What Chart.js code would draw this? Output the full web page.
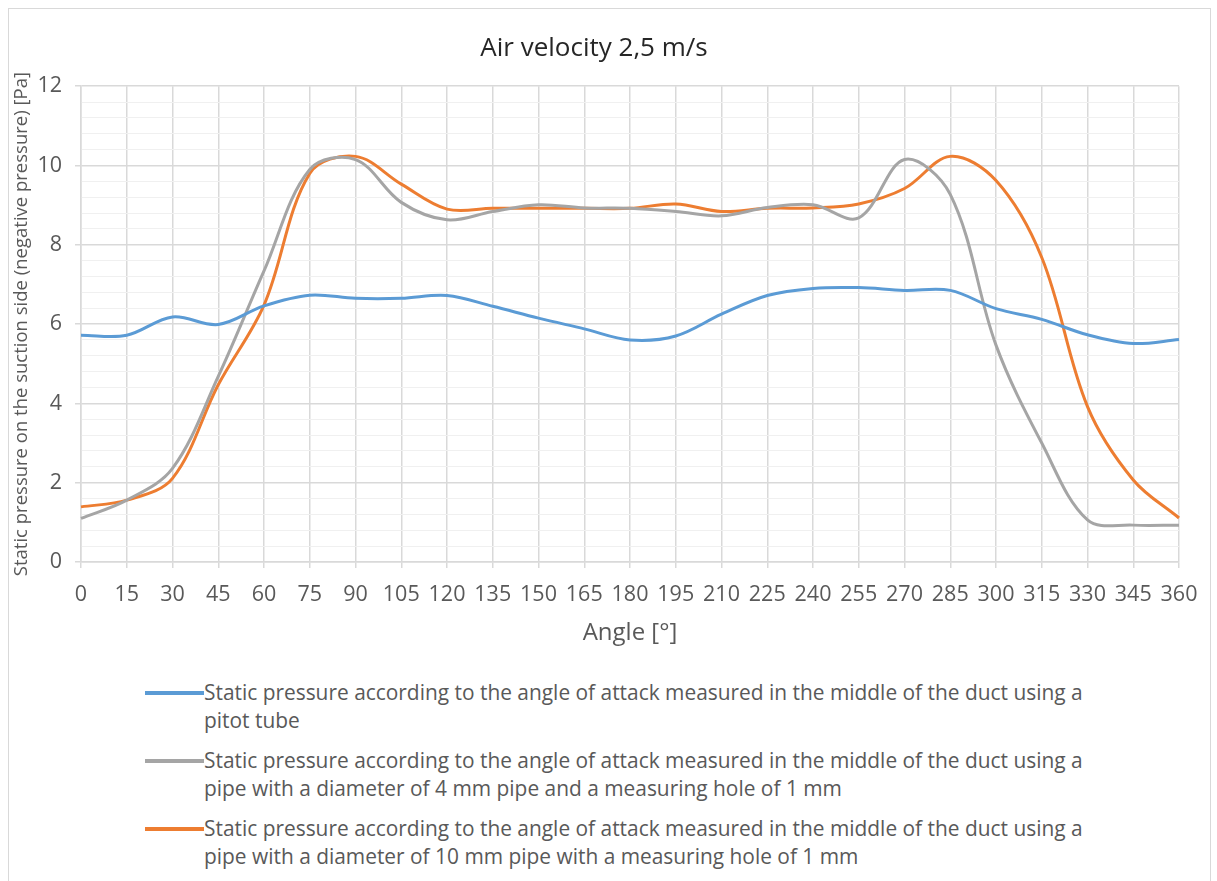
<!DOCTYPE html>
<html>
<head>
<meta charset="utf-8">
<script src="https://cdn.jsdelivr.net/npm/chart.js@4.4.1/dist/chart.umd.min.js"></script>
<style>
    body { margin: 0; background: #fff; font-family: 'Open Sans', Lato, sans-serif; }
    #frame { position: absolute; left: 8px; top: 8px; width: 1203px; height: 880px; border: 1px solid #d9d9d9; box-sizing: border-box; }
    #chartBox { position: absolute; left: 0; top: 0; width: 1200px; height: 650px; }
    #legend { position: absolute; left: 136px; top: 669px; color: #595959; font-size: 20.9px; }
    .legend-item { display: flex; align-items: flex-start; margin-bottom: 12px; }
    .legend-line { width: 59px; height: 4px; margin-top: 13px; flex: none; }
    .legend-text { width: 900px; line-height: 28px; }
</style>
</head>
<body>
<div id="frame">
    <div id="chartBox"><canvas id="pressureChart" width="1200" height="650"></canvas></div>
    <div id="legend"></div>
</div>
<script>
// angle of attack [deg]
const angles = [0, 15, 30, 45, 60, 75, 90, 105, 120, 135, 150, 165, 180, 195, 210, 225, 240, 255, 270, 285, 300, 315, 330, 345, 360];

// static pressure [Pa]
const pitotTube = [5.72, 5.72, 6.18, 5.99, 6.46, 6.73, 6.65, 6.65, 6.72, 6.45, 6.15, 5.88, 5.6, 5.7, 6.25, 6.72, 6.9, 6.92, 6.85, 6.85, 6.39, 6.12, 5.73, 5.51, 5.61];
const pipe4mm = [1.1, 1.56, 2.36, 4.68, 7.34, 9.9, 10.15, 9.07, 8.63, 8.84, 9.01, 8.93, 8.92, 8.84, 8.73, 8.94, 9.01, 8.68, 10.15, 9.27, 5.47, 3.0, 1.06, 0.93, 0.93];
const pipe10mm = [1.39, 1.56, 2.11, 4.47, 6.48, 9.8, 10.23, 9.53, 8.9, 8.92, 8.92, 8.92, 8.92, 9.03, 8.84, 8.92, 8.93, 9.03, 9.42, 10.23, 9.62, 7.68, 3.92, 2.07, 1.11];

const seriesLabels = [
    'Static pressure according to the angle of attack measured in the middle of the duct using a pitot tube',
    'Static pressure according to the angle of attack measured in the middle of the duct using a pipe with a diameter of 4 mm pipe and a measuring hole of 1 mm',
    'Static pressure according to the angle of attack measured in the middle of the duct using a pipe with a diameter of 10 mm pipe with a measuring hole of 1 mm'
];
const seriesColors = ['#5b9bd5', '#a5a5a5', '#ed7d31'];

const yMin = 0, yMax = 12, yMajor = 2, yMinor = 0.4;

const FONT = 'Open Sans';
const TEXT = '#595959';

function isMajor(v) {
    return Math.abs(v / yMajor - Math.round(v / yMajor)) < 1e-6;
}

const ctx = document.getElementById('pressureChart');
const chart = new Chart(ctx, {
    type: 'line',
    data: {
        labels: angles,
        datasets: [pitotTube, pipe4mm, pipe10mm].map((d, i) => ({
            label: seriesLabels[i],
            data: d,
            borderColor: seriesColors[i],
            backgroundColor: seriesColors[i],
            borderWidth: 3,
            tension: 0.35,
            pointRadius: 0,
            fill: false
        }))
    },
    options: {
        responsive: false,
        animation: false,
        layout: { padding: { left: 0, right: 30, top: 0, bottom: 0 } },
        plugins: {
            legend: { display: false },
            tooltip: { enabled: false },
            title: {
                display: true,
                text: 'Air velocity 2,5 m/s',
                color: '#262626',
                font: { family: FONT, size: 26, weight: 'normal' },
                padding: { top: 24, bottom: 22 }
            }
        },
        scales: {
            x: {
                ticks: { color: TEXT, font: { family: FONT, size: 21.5 }, padding: 14, maxRotation: 0, autoSkip: false },
                grid: { color: '#d9d9d9', lineWidth: 1.5, tickLength: 6, tickColor: '#d9d9d9' },
                border: { color: '#d9d9d9', width: 1.5 },
                title: { display: true, text: 'Angle [°]', color: TEXT, font: { family: FONT, size: 24 }, padding: { top: 6, bottom: 11 } },
                afterFit: s => { s.height = 97; s.paddingRight = 0; s.paddingLeft = 0; }
            },
            y: {
                min: yMin,
                max: yMax,
                ticks: {
                    stepSize: yMinor,
                    color: TEXT,
                    font: { family: FONT, size: 21.5 },
                    padding: 13,
                    autoSkip: false,
                    callback: v => isMajor(v) ? String(Math.round(v)) : ''
                },
                grid: {
                    color: c => isMajor(c.tick.value) ? '#d9d9d9' : '#f0f0f0',
                    lineWidth: c => isMajor(c.tick.value) ? 1.5 : 1,
                    tickLength: 6,
                    tickColor: c => isMajor(c.tick.value) ? '#d9d9d9' : 'rgba(0,0,0,0)'
                },
                border: { color: '#d9d9d9', width: 1.5 },
                title: {
                    display: true,
                    text: 'Static pressure on the suction side (negative pressure) [Pa]',
                    color: TEXT,
                    font: { family: FONT, size: 18.5 },
                    padding: { top: 2, bottom: 0 }
                },
                afterFit: s => { s.width = 72; }
            }
        }
    }
});

// legend as HTML so the long labels wrap like the original
const legend = document.getElementById('legend');
chart.data.datasets.forEach(ds => {
    const item = document.createElement('div');
    item.className = 'legend-item';
    const line = document.createElement('div');
    line.className = 'legend-line';
    line.style.background = ds.borderColor;
    const text = document.createElement('div');
    text.className = 'legend-text';
    text.textContent = ds.label;
    item.appendChild(line);
    item.appendChild(text);
    legend.appendChild(item);
});
</script>
</body>
</html>
